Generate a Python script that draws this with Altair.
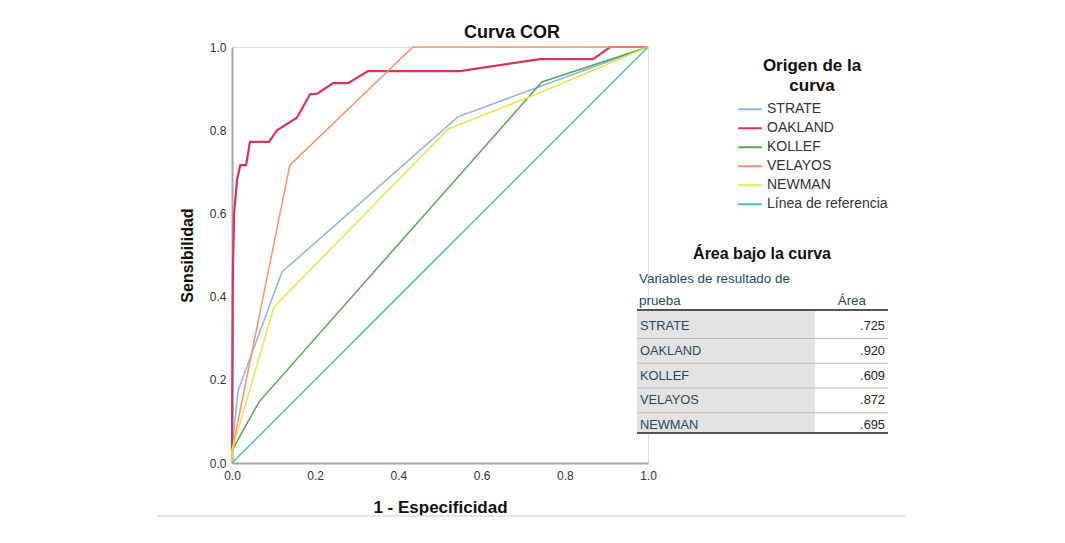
import altair as alt
import pandas as pd

# ---------------- data ----------------
series_names = ["STRATE", "OAKLAND", "KOLLEF", "VELAYOS", "NEWMAN", "Línea de referencia"]
series_colors = ["#8fb4e3", "#d9335c", "#5ea35b", "#f9926c", "#e6e64e", "#4fbdbd"]

strate_fpr = [0.0, 0.0, 0.015, 0.12, 0.543, 0.74, 1.0]
strate_tpr = [0.0, 0.038, 0.175, 0.459, 0.832, 0.905, 1.0]

oakland_fpr = [0.0, 0.0, 0.002, 0.005, 0.012, 0.02, 0.034, 0.043, 0.089, 0.108, 0.156,
               0.188, 0.204, 0.243, 0.279, 0.327, 0.548, 0.74, 0.868, 0.909, 1.0]
oakland_tpr = [0.0, 0.03, 0.45, 0.6, 0.68, 0.716, 0.716, 0.772, 0.772, 0.80, 0.83,
               0.887, 0.887, 0.913, 0.913, 0.942, 0.942, 0.971, 0.971, 1.0, 1.0]

kollef_fpr = [0.0, 0.0, 0.065, 0.745, 1.0]
kollef_tpr = [0.0, 0.03, 0.147, 0.916, 1.0]

velayos_fpr = [0.0, 0.0, 0.139, 0.435, 1.0]
velayos_tpr = [0.0, 0.03, 0.716, 1.0, 1.0]

newman_fpr = [0.0, 0.0, 0.101, 0.52, 0.74, 1.0]
newman_tpr = [0.0, 0.03, 0.375, 0.803, 0.89, 1.0]

ref_fpr = [0.0, 1.0]
ref_tpr = [0.0, 1.0]

auc_labels = ["STRATE", "OAKLAND", "KOLLEF", "VELAYOS", "NEWMAN"]
auc_values = [".725", ".920", ".609", ".872", ".695"]

axis_ticks = [0.0, 0.2, 0.4, 0.6, 0.8, 1.0]

# ---------------- build table ----------------
rows = []
for name, xs, ys in [
    ("STRATE", strate_fpr, strate_tpr),
    ("OAKLAND", oakland_fpr, oakland_tpr),
    ("KOLLEF", kollef_fpr, kollef_tpr),
    ("VELAYOS", velayos_fpr, velayos_tpr),
    ("NEWMAN", newman_fpr, newman_tpr),
    ("Línea de referencia", ref_fpr, ref_tpr),
]:
    for i, (a, b) in enumerate(zip(xs, ys)):
        rows.append({"serie": name, "fpr": a, "tpr": b, "ord": i})
df = pd.DataFrame(rows)
one = pd.DataFrame({"k": [0]})

FONT = "Liberation Sans"
W, H = 416, 416
TABLE_TXT = "#264a60"

lines = alt.Chart(df).mark_line(clip=False).encode(
    x=alt.X("fpr:Q", scale=alt.Scale(domain=[0, 1], nice=False),
            axis=alt.Axis(title="1 - Especificidad", values=axis_ticks, format=".1f",
                          grid=False, ticks=False, tickSize=0, labelPadding=7, labelFlush=False,
                          domainColor="#a6a6a6", domainWidth=2,
                          labelFont=FONT, labelFontSize=12, labelColor="#333333",
                          titleFont=FONT, titleFontSize=17, titleFontWeight="bold",
                          titleColor="#111111", titlePadding=18)),
    y=alt.Y("tpr:Q", scale=alt.Scale(domain=[0, 1], nice=False),
            axis=alt.Axis(title="Sensibilidad", values=axis_ticks, format=".1f",
                          grid=False, ticks=False, tickSize=0, labelPadding=6, labelFlush=False,
                          domainColor="#a6a6a6", domainWidth=2,
                          labelFont=FONT, labelFontSize=12, labelColor="#333333",
                          titleFont=FONT, titleFontSize=16, titleFontWeight="bold",
                          titleColor="#111111", titlePadding=14)),
    color=alt.Color("serie:N",
                    scale=alt.Scale(domain=series_names, range=series_colors),
                    sort=series_names,
                    legend=alt.Legend(title=["Origen de la", "curva"], orient="none",
                                      legendX=505, legendY=11,
                                      titleFont=FONT, titleFontSize=17, titleFontWeight="bold",
                                      titleColor="#111111", titleAnchor="middle", titleAlign="center",
                                      titleLineHeight=20, titlePadding=5,
                                      symbolType="stroke", symbolSize=560, symbolStrokeWidth=2,
                                      labelFont=FONT, labelFontSize=14, labelColor="#333333",
                                      labelOffset=4, rowPadding=0, clipHeight=18.6)),
    strokeWidth=alt.condition(alt.datum.serie == "OAKLAND", alt.value(2.2), alt.value(1.5)),
    order="ord:Q",
)

layers = [lines]


def txt(text, x, y, size=12, weight="normal", color="#222222", align="left", baseline="middle"):
    return alt.Chart(one).mark_text(text=text, font=FONT, fontSize=size, fontWeight=weight,
                                    color=color, align=align, baseline=baseline).encode(
        x=alt.value(x), y=alt.value(y))


def rule(x1, x2, y, color, width):
    return alt.Chart(one).mark_rule(color=color, strokeWidth=width).encode(
        x=alt.value(x1), x2=alt.value(x2), y=alt.value(y))


# table positions relative to plot origin
TX0, TX1, TXG = 405, 656, 583
ROW0, STEP = 279, 24.75

shade = alt.Chart(one).mark_rect(color="#e3e3e3").encode(
    x=alt.value(TX0), x2=alt.value(TXG),
    y=alt.value(ROW0 - 15), y2=alt.value(ROW0 + STEP * 4 + 8))
layers.append(shade)

layers.append(txt("Área bajo la curva", 530, 207, size=16, weight="bold", color="#111111", align="center"))
layers.append(txt("Variables de resultado de", 407, 232, size=13.4, color=TABLE_TXT))
layers.append(txt("prueba", 407, 254, size=13.4, color=TABLE_TXT))
layers.append(txt("Área", 634, 254, size=13.4, color=TABLE_TXT, align="right"))
layers.append(rule(TX0, TX1, 263, "#555555", 2))

for i, (lab, val) in enumerate(zip(auc_labels, auc_values)):
    yy = ROW0 + STEP * i
    layers.append(txt(lab, 408, yy, size=12.8, color=TABLE_TXT))
    layers.append(txt(val, 653, yy, size=12.8, color="#222222", align="right"))
    if i < len(auc_labels) - 1:
        layers.append(rule(TX0, TX1, yy + 12.5, "#b8b8b8", 1))
layers.append(rule(TX0, TX1, ROW0 + STEP * 4 + 8, "#555555", 2))

# bottom gray separator
layers.append(rule(-75, 673, 469, "#dddddd", 1.5))

chart = alt.layer(*layers).properties(
    width=W, height=H,
    title=alt.TitleParams("Curva COR", font=FONT, fontSize=18, fontWeight="bold",
                          color="#111111", anchor="middle", dx=72, dy=9, offset=8),
    autosize=alt.AutoSizeParams(type="none"),
    padding={"left": 224, "top": 39, "right": 409, "bottom": 72},
).configure_view(stroke=None).configure(background="white")

chart.save("out.html", embed_options={"renderer": "svg", "actions": False})
